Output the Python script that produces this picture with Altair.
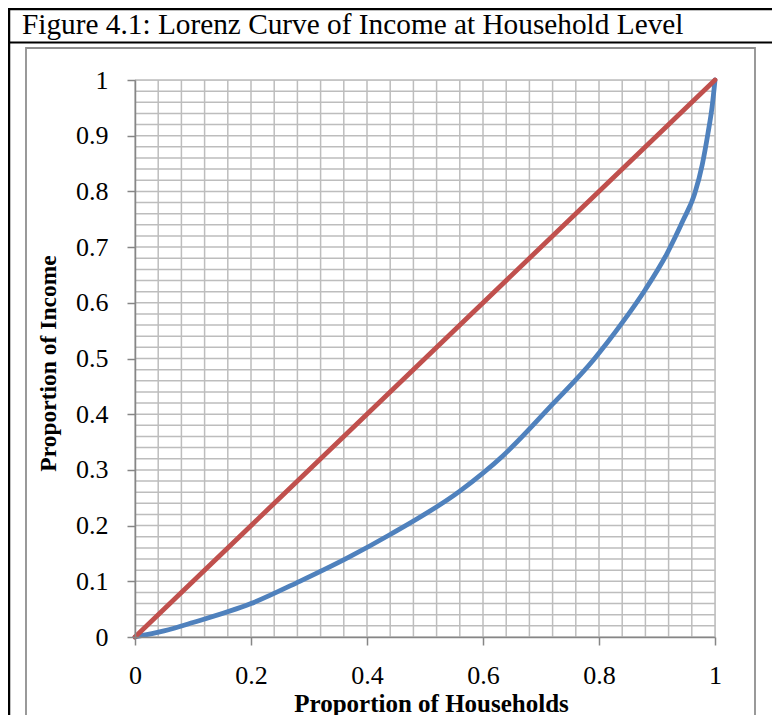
import altair as alt
import pandas as pd

# ---- data ----
households = [0, 0.05, 0.1, 0.2, 0.284, 0.368, 0.44, 0.56, 0.635, 0.72, 0.79,
              0.842, 0.88, 0.917, 0.945, 0.965, 0.978, 0.988, 0.995, 1.0]
income = [0, 0.011, 0.026, 0.06, 0.1, 0.143, 0.184, 0.262, 0.326, 0.418, 0.497,
          0.567, 0.624, 0.688, 0.748, 0.796, 0.848, 0.905, 0.952, 1.0]
equality_x = [0, 1]
equality_y = [0, 1]

x_ticks = [0, 0.2, 0.4, 0.6, 0.8, 1]
y_ticks = [0, 0.1, 0.2, 0.3, 0.4, 0.5, 0.6, 0.7, 0.8, 0.9, 1]
grid_x = [round(i * 0.04, 4) for i in range(26)]
grid_y = [round(i * 0.02, 4) for i in range(51)]

title_text = "Figure 4.1: Lorenz Curve of Income at Household Level"
x_title = "Proportion of Households"
y_title = "Proportion of Income"

SERIF = "Liberation Serif"
W, H = 580, 557

xs = alt.Scale(domain=[0, 1], nice=False, zero=False)
ys = alt.Scale(domain=[0, 1], nice=False, zero=False)

x_axis = alt.Axis(
    values=x_ticks, format="~g", title=x_title, grid=False,
    domainColor="#868686", domainWidth=1.5, tickColor="#868686", tickWidth=1.5,
    tickSize=8, labelPadding=17, labelFont=SERIF, labelFontSize=26,
    labelColor="black", titleFont=SERIF, titleFontSize=25, titleFontWeight="bold",
    titleColor="black", titleX=296, titleY=74, titleBaseline="alphabetic",
    titleAlign="center", zindex=1, labelFlush=False, labelOverlap=False)
y_axis = alt.Axis(
    values=y_ticks, format="~g", title=y_title, grid=False,
    domainColor="#868686", domainWidth=1.5, tickColor="#868686", tickWidth=1.5,
    tickSize=8, labelPadding=19, labelFont=SERIF, labelFontSize=26,
    labelColor="black", titleFont=SERIF, titleFontSize=23.5, titleFontWeight="bold",
    titleColor="black", titleX=-80, titleY=283, titleBaseline="alphabetic",
    titleAlign="center", titleAngle=270, zindex=1, labelFlush=False,
    labelOverlap=False)

lorenz_df = pd.DataFrame({"x": households, "y": income})
equal_df = pd.DataFrame({"x": equality_x, "y": equality_y})
gx_df = pd.DataFrame({"x": grid_x})
gy_df = pd.DataFrame({"y": grid_y})
one = alt.Data(values=[{}])

grid_v = alt.Chart(gx_df).mark_rule(color="#bdbdbd", strokeWidth=1.5).encode(
    x=alt.X("x:Q", scale=xs, axis=x_axis)
)
grid_h = alt.Chart(gy_df).mark_rule(color="#bdbdbd", strokeWidth=1.5).encode(
    y=alt.Y("y:Q", scale=ys, axis=y_axis)
)

lorenz = alt.Chart(lorenz_df).mark_line(
    color="#4F81BD", strokeWidth=4.8, interpolate="monotone", strokeCap="round"
).encode(
    x=alt.X("x:Q", scale=xs, axis=x_axis),
    y=alt.Y("y:Q", scale=ys, axis=y_axis),
)

equal = alt.Chart(equal_df).mark_line(
    color="#C0504D", strokeWidth=4.8, strokeCap="round"
).encode(
    x=alt.X("x:Q", scale=xs, axis=x_axis),
    y=alt.Y("y:Q", scale=ys, axis=y_axis),
)

# ---- decorative frame (document figure box) ----
top_line = alt.Chart(one).mark_rule(color="black", strokeWidth=2.5).encode(
    x=alt.value(-127), x2=alt.value(660), y=alt.value(-71)
)
sep_line = alt.Chart(one).mark_rule(color="black", strokeWidth=2.2).encode(
    x=alt.value(-127), x2=alt.value(660), y=alt.value(-37.5)
)
left_line = alt.Chart(one).mark_rule(color="black", strokeWidth=2.5).encode(
    x=alt.value(-126), y=alt.value(-72), y2=alt.value(660)
)
inner_box = alt.Chart(one).mark_rect(
    fill=None, stroke="#8f8f8f", strokeWidth=1.8
).encode(
    x=alt.value(-109), x2=alt.value(620), y=alt.value(-32), y2=alt.value(700)
)
title = alt.Chart(one).mark_text(
    text=title_text, align="left", baseline="alphabetic",
    font=SERIF, fontSize=29.3, color="black"
).encode(x=alt.value(-113), y=alt.value(-46.5))

chart = alt.layer(
    grid_v, grid_h, lorenz, equal, top_line, sep_line, left_line, inner_box, title
).properties(
    width=W, height=H,
    autosize=alt.AutoSizeParams(type="none"),
    padding={"left": 127, "top": 72, "right": 57, "bottom": 78},
).configure_view(strokeWidth=0).configure(background="white")

chart.save("out.html", embed_options={"renderer": "svg", "actions": False})
